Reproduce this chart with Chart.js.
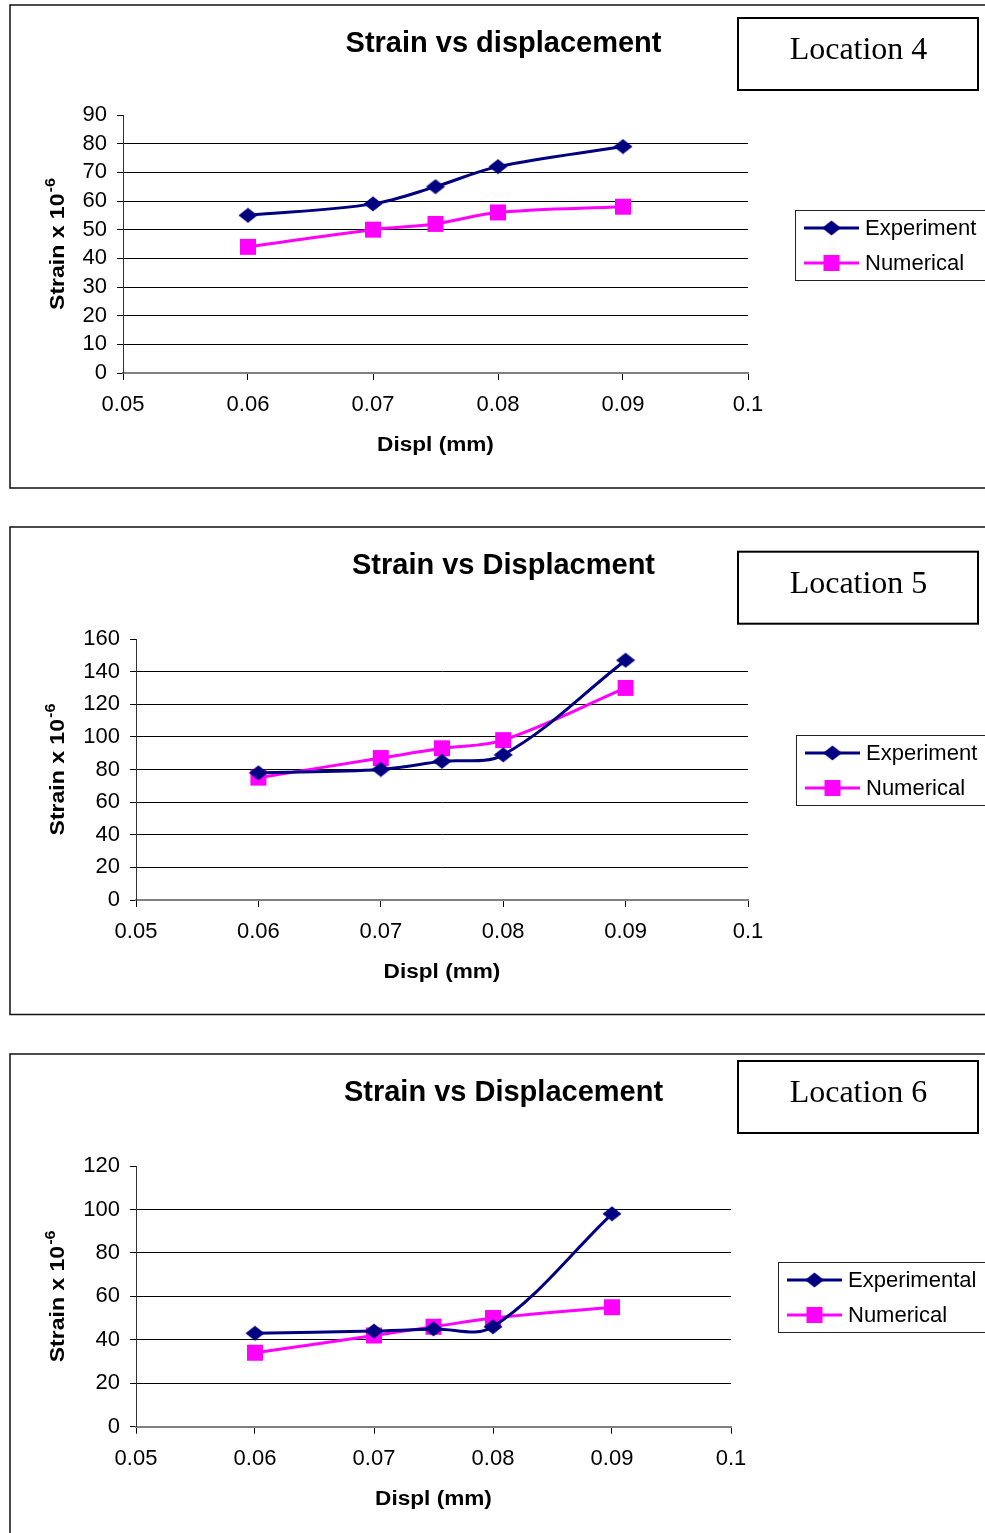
<!DOCTYPE html>
<html>
<head>
<meta charset="utf-8">
<title>Strain vs displacement</title>
<script src="https://cdn.jsdelivr.net/npm/chart.js@4.4.1/dist/chart.umd.min.js"></script>
<style>
  html, body { margin: 0; padding: 0; background: #fff; }
  body { position: relative; width: 985px; height: 1533px; overflow: hidden; }
  canvas { position: absolute; left: 0; }
</style>
</head>
<body>
<canvas id="loc4" width="985" height="510" style="top:0px"></canvas>
<canvas id="loc5" width="985" height="530" style="top:510px"></canvas>
<canvas id="loc6" width="985" height="493" style="top:1040px"></canvas>
<script>
// displacement (mm) where strain was recorded
const displ = [0.06, 0.07, 0.075, 0.08, 0.09];
const xMin = 0.05, xMax = 0.1, xStep = 0.01;

// strain x 10^-6, location 4
const loc4Experiment = [55, 59, 65, 72, 79];
const loc4Numerical = [44, 50, 52, 56, 58];
// location 5
const loc5Experiment = [78, 80, 85, 89, 147];
const loc5Numerical = [75, 87, 93, 98, 130];
// location 6
const loc6Experimental = [43, 44, 45, 46, 98];
const loc6Numerical = [34, 42, 46, 50, 55];

const yMax = [90, 160, 120];
const yStep = [10, 20, 20];

const SANS = "'Liberation Sans', Arial, sans-serif";
const SERIF = "'Liberation Serif', 'Times New Roman', serif";
const NAVY = '#000080';
const MAGENTA = '#FF00FF';

// wide diamond marker, a bit flatter than a rotated square
function diamondImage(color) {
  const c = document.createElement('canvas');
  c.width = 20; c.height = 16;
  const g = c.getContext('2d');
  g.fillStyle = color;
  g.beginPath();
  g.moveTo(10, 0.5); g.lineTo(19.5, 8); g.lineTo(10, 15.5); g.lineTo(0.5, 8);
  g.closePath();
  g.fill();
  return c;
}
const diamond = diamondImage(NAVY);

function marker(ctx, style, x, y, color) {
  if (style instanceof HTMLCanvasElement) {
    ctx.drawImage(style, x - style.width / 2, y - style.height / 2);
    return;
  }
  ctx.fillStyle = color;
  ctx.fillRect(x - 8, y - 8, 16, 16);
}

// text stretched along its own direction
function wideText(ctx, text, x, y, sx) {
  ctx.save();
  ctx.translate(x, y);
  ctx.scale(sx, 1);
  ctx.fillText(text, 0, 0);
  ctx.restore();
}

function strainChart(id, p) {
  const canvas = document.getElementById(id);
  const W = canvas.width, H = canvas.height;
  const [left, top, right, bottom] = p.area;

  const panel = {
    id: 'panel',
    beforeDraw(chart) {
      const ctx = chart.ctx;
      ctx.save();
      ctx.fillStyle = '#fff';
      ctx.fillRect(0, 0, W, H);
      ctx.strokeStyle = '#111';
      ctx.lineWidth = 1.5;
      ctx.strokeRect(10, p.frame[0], 1100, p.frame[1] - p.frame[0]);
      ctx.restore();
    },
    afterDraw(chart) {
      const ctx = chart.ctx;
      const a = chart.chartArea;
      ctx.save();
      ctx.fillStyle = '#000';

      // chart title
      ctx.font = 'bold 29px ' + SANS;
      ctx.textAlign = 'center';
      ctx.textBaseline = 'alphabetic';
      ctx.fillText(p.title, 503.5, p.titleY + 10.5);

      // location tag
      const b = p.tag;
      ctx.strokeStyle = '#000';
      ctx.lineWidth = 2;
      ctx.strokeRect(738, b, 240, 72);
      ctx.font = '32px ' + SERIF;
      ctx.fillText(p.location, 858.5, b + 41);

      // x axis title
      ctx.font = 'bold 20px ' + SANS;
      wideText(ctx, 'Displ (mm)', (a.left + a.right) / 2, a.bottom + 71 + 7, 1.13);

      // y axis title with superscript exponent
      ctx.save();
      ctx.translate(57, (a.top + a.bottom) / 2);
      ctx.rotate(-Math.PI / 2);
      ctx.scale(1.15, 1);
      ctx.textAlign = 'left';
      ctx.font = 'bold 20px ' + SANS;
      const main = 'Strain x 10';
      const mw = ctx.measureText(main).width;
      ctx.font = 'bold 14px ' + SANS;
      const sw = ctx.measureText('-6').width;
      const x0 = -(mw + sw + 1) / 2;
      ctx.font = 'bold 20px ' + SANS;
      ctx.fillText(main, x0, 7);
      ctx.font = 'bold 14px ' + SANS;
      ctx.fillText('-6', x0 + mw + 1, -2);
      ctx.restore();

      // legend
      const [lx, ly] = p.legend;
      ctx.strokeStyle = '#222';
      ctx.lineWidth = 1;
      ctx.strokeRect(lx + 0.5, ly + 0.5, 300, 70);
      ctx.font = '22px ' + SANS;
      ctx.textAlign = 'left';
      ctx.textBaseline = 'middle';
      chart.data.datasets.forEach((ds, i) => {
        const y = ly + 18 + i * 35;
        ctx.strokeStyle = ds.borderColor;
        ctx.lineWidth = 3;
        ctx.beginPath();
        ctx.moveTo(lx + 9, y);
        ctx.lineTo(lx + 64, y);
        ctx.stroke();
        marker(ctx, ds.pointStyle, lx + 36.5, y, ds.borderColor);
        ctx.fillStyle = '#000';
        ctx.fillText(ds.label, lx + 70, y + 1);
      });
      ctx.restore();
    }
  };

  const series = (vals) => displ.map((x, i) => ({ x: x, y: vals[i] }));
  const tickFont = { family: SANS, size: 22 };

  return new Chart(canvas, {
    type: 'line',
    data: {
      datasets: [
        {
          label: p.names[0], data: series(p.exp),
          borderColor: NAVY, backgroundColor: NAVY, borderWidth: 3,
          pointStyle: diamond, pointRadius: 8, tension: 0.35
        },
        {
          label: p.names[1], data: series(p.num),
          borderColor: MAGENTA, backgroundColor: MAGENTA, borderWidth: 3,
          pointStyle: 'rect', pointRadius: 11.3, pointBorderWidth: 0, tension: 0.35
        }
      ]
    },
    options: {
      responsive: false,
      animation: false,
      devicePixelRatio: 1,
      layout: { padding: { left: 0, top: top, right: W - right, bottom: 0 } },
      plugins: { legend: { display: false }, tooltip: { enabled: false }, title: { display: false } },
      scales: {
        x: {
          type: 'linear', min: xMin, max: xMax,
          ticks: {
            stepSize: xStep, padding: 12, color: '#000', font: tickFont,
            maxRotation: 0, autoSkip: false,
            callback: (v) => String(+v.toFixed(3))
          },
          grid: { drawOnChartArea: false, tickLength: 7, tickColor: '#000', lineWidth: 1 },
          border: { color: '#808080', width: 2 },
          afterFit: (s) => { s.height = H - bottom; }
        },
        y: {
          min: 0, max: p.yMax,
          ticks: { stepSize: p.yStep, padding: 10, color: '#000', font: tickFont, autoSkip: false },
          grid: {
            color: (c) => (c.tick && (c.tick.value === 0 || c.tick.value === p.yMax)) ? 'rgba(0,0,0,0)' : '#000',
            tickLength: 6, tickColor: '#000', lineWidth: 1
          },
          border: { color: '#333', width: 1 },
          afterFit: (s) => { s.width = left; }
        }
      }
    },
    plugins: [panel]
  });
}

strainChart('loc4', {
  title: 'Strain vs displacement', location: 'Location 4',
  names: ['Experiment', 'Numerical'], exp: loc4Experiment, num: loc4Numerical,
  yMax: yMax[0], yStep: yStep[0],
  area: [123, 115, 748, 373], frame: [5, 488], titleY: 41.5, tag: 18, legend: [795, 210]
});

strainChart('loc5', {
  title: 'Strain vs Displacment', location: 'Location 5',
  names: ['Experiment', 'Numerical'], exp: loc5Experiment, num: loc5Numerical,
  yMax: yMax[1], yStep: yStep[1],
  area: [136, 129, 748, 390], frame: [17, 504.5], titleY: 53, tag: 41.7, legend: [796, 225]
});

strainChart('loc6', {
  title: 'Strain vs Displacement', location: 'Location 6',
  names: ['Experimental', 'Numerical'], exp: loc6Experimental, num: loc6Numerical,
  yMax: yMax[2], yStep: yStep[2],
  area: [136, 126, 731, 386.7], frame: [14, 600], titleY: 50, tag: 21, legend: [778, 222]
});
</script>
</body>
</html>
